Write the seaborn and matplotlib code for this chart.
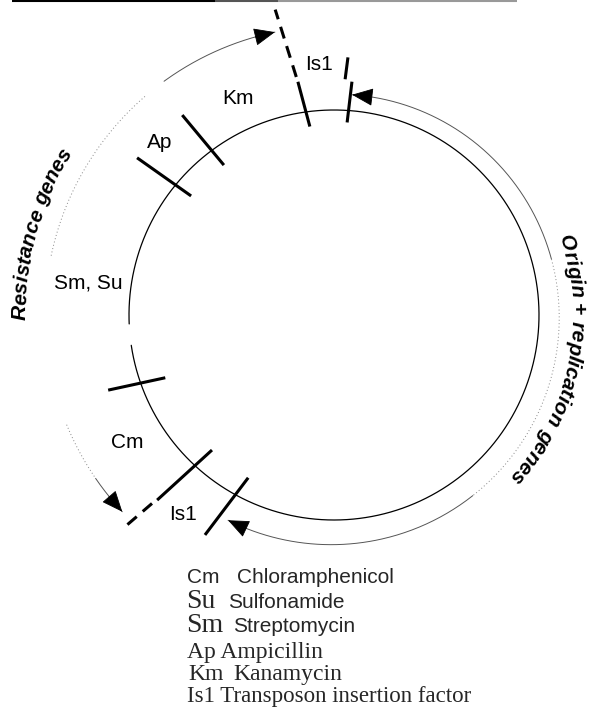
import numpy as np
import matplotlib.pyplot as plt
import seaborn as sns
from matplotlib.font_manager import FontProperties

sns.set_theme(style='white')
plt.rcParams['font.family'] = ['Liberation Sans', 'DejaVu Sans']

# plasmid drawn in image pixels (y down), angles in degrees, ccw from 3 o'clock
center = (334, 315)
radius = 205
circle_gap = (182.5, 188.5)

# site bars: (angle, r) at inner and outer end of the solid bar
bar_in = [(97.3, 190), (86.1, 193), (126.3, 186), (140.2, 186), (200.4, 180), (227.9, 182), (242.2, 184)]
bar_out = [(98.8, 236), (85.6, 234), (127.2, 251), (141.4, 252), (198.4, 238), (226.3, 256), (239.6, 255)]
# continuation of the Is1 bars beyond the map
ext_from = [(99.0, 241), (87.3, 236), (226.0, 262)]
ext_to = [(100.9, 311), (86.9, 258), (225.3, 302)]
ext_dashed = [True, False, True]

site_labels = ['Is1', 'Km', 'Ap', 'Sm, Su', 'Cm', 'Is1']
site_label_xy = [(319, 65), (238, 98), (160, 142), (88, 283), (127, 442), (183, 515)]

# region arrows: start angle, end angle, radius at start, radius at end
res_arc = (101.8, 222.9, 289, 289)
ori_arc = (85.3, -117.3, 221, 231)
res_title = 'Resistance genes'
ori_title = 'Origin + replication genes'

legend_abbr = ['Cm', 'Su', 'Sm', 'Ap', 'Km', 'Is1']
legend_name = ['Chloramphenicol', 'Sulfonamide', 'Streptomycin', 'Ampicillin', 'Kanamycin',
               'Transposon insertion factor']

cx, cy = center


def pt(theta, r):
    t = np.radians(theta)
    return cx + r * np.cos(t), cy - r * np.sin(t)


def arc(a0, a1, r0, r1, n=200):
    th = np.linspace(a0, a1, n)
    rr = r0 + (r1 - r0) * (th - a0) / (a1 - a0)
    x, y = pt(th, rr)
    return x, y


fig = plt.figure(figsize=(5.89, 7.13), dpi=100)
ax = fig.add_axes([0, 0, 1, 1])
ax.set_xlim(0, 589)
ax.set_ylim(713, 0)
ax.axis('off')

# scan border at the top
ax.plot([12, 215], [1, 1], color='black', lw=1.5, solid_capstyle='butt')
ax.plot([215, 278], [1, 1], color='#555555', lw=1.5, solid_capstyle='butt')
ax.plot([278, 517], [1, 1], color='#999999', lw=1.5, solid_capstyle='butt')

# plasmid circle with its small break
x, y = arc(circle_gap[1], circle_gap[0] + 360, radius, radius, 600)
sns.lineplot(x=x, y=y, sort=False, color='black', lw=0.9, ax=ax)

# site bars
for a, b in zip(bar_in, bar_out):
    (x0, y0), (x1, y1) = pt(*a), pt(*b)
    ax.plot([x0, x1], [y0, y1], color='black', lw=2.2, solid_capstyle='butt')
for a, b, dashed in zip(ext_from, ext_to, ext_dashed):
    (x0, y0), (x1, y1) = pt(*a), pt(*b)
    ax.plot([x0, x1], [y0, y1], color='black', lw=2.2,
            linestyle=(0, (4, 2.6)) if dashed else '-', dash_capstyle='butt',
            solid_capstyle='butt')

for s, (x0, y0) in zip(site_labels, site_label_xy):
    ax.text(x0, y0, s, fontsize=15, ha='center', va='center', color='black')


def region_arrow(a0, a1, r0, r1, pieces):
    # pieces: (fraction from, fraction to, style)
    for f0, f1, ls in pieces:
        b0 = a0 + (a1 - a0) * f0
        b1 = a0 + (a1 - a0) * f1
        rb0 = r0 + (r1 - r0) * f0
        rb1 = r0 + (r1 - r0) * f1
        x, y = arc(b0, b1, rb0, rb1)
        ax.plot(x, y, color='#555555' if ls == '-' else '#888888', lw=0.7,
                linestyle='-' if ls == '-' else (0, (1, 2.5)))
    step = 4 if a1 > a0 else -4
    for tip, back, rt in [(a0, a0 + step, r0), (a1, a1 - step, r1)]:
        ax.annotate('', xy=pt(tip, rt), xytext=pt(back, rt),
                    arrowprops=dict(arrowstyle='-|>,head_length=0.9,head_width=0.38',
                                    color='black', lw=0.6, shrinkA=0, shrinkB=0,
                                    mutation_scale=15))


region_arrow(*res_arc, [(0.0, 0.2, '-'), (0.24, 0.55, ':'), (0.83, 0.93, ':'), (0.93, 1.0, '-')])
region_arrow(*ori_arc, [(0.0, 0.35, '-'), (0.35, 0.68, ':'), (0.68, 1.0, '-')])

# curved titles, letters placed one by one along the arc
fig.canvas.draw()
renderer = fig.canvas.get_renderer()
title_prop = FontProperties(family='Liberation Sans', weight='bold', style='italic', size=15)


def curved_text(text, theta0, r):
    s = 0.0
    for ch in text:
        w, h, d = renderer.get_text_width_height_descent(ch, title_prop, ismath=False)
        th = theta0 - np.degrees((s + w / 2) / r)
        x0, y0 = pt(th, r)
        ax.text(x0, y0, ch, rotation=th - 90, rotation_mode='anchor', ha='center',
                va='baseline', fontproperties=title_prop, color='black')
        s += w


curved_text(res_title, 181.0, 308)
curved_text(ori_title, 19.0, 238)

# key below the map
serif = 'Liberation Serif'
rows_y = [583, 608, 632, 658, 680, 702]
ax.text(187, rows_y[0], legend_abbr[0], fontsize=15, va='baseline')
ax.text(237, rows_y[0], legend_name[0], fontsize=15, va='baseline')
ax.text(186, rows_y[1], legend_abbr[1], fontsize=20, family=serif, va='baseline')
ax.text(228, rows_y[1], legend_name[1], fontsize=15, va='baseline')
ax.text(186, rows_y[2], legend_abbr[2], fontsize=20, family=serif, va='baseline')
ax.text(233, rows_y[2], legend_name[2], fontsize=15, va='baseline')
ax.text(187, rows_y[3], legend_abbr[3] + ' ' + legend_name[3], fontsize=17, family=serif, va='baseline')
ax.text(188, rows_y[4], legend_abbr[4], fontsize=17, family=serif, va='baseline')
ax.text(233, rows_y[4], legend_name[4], fontsize=17, family=serif, va='baseline')
ax.text(187, rows_y[5], legend_abbr[5] + ' ' + legend_name[5], fontsize=16.5, family=serif, va='baseline')

fig.savefig('out.png', dpi=100)
